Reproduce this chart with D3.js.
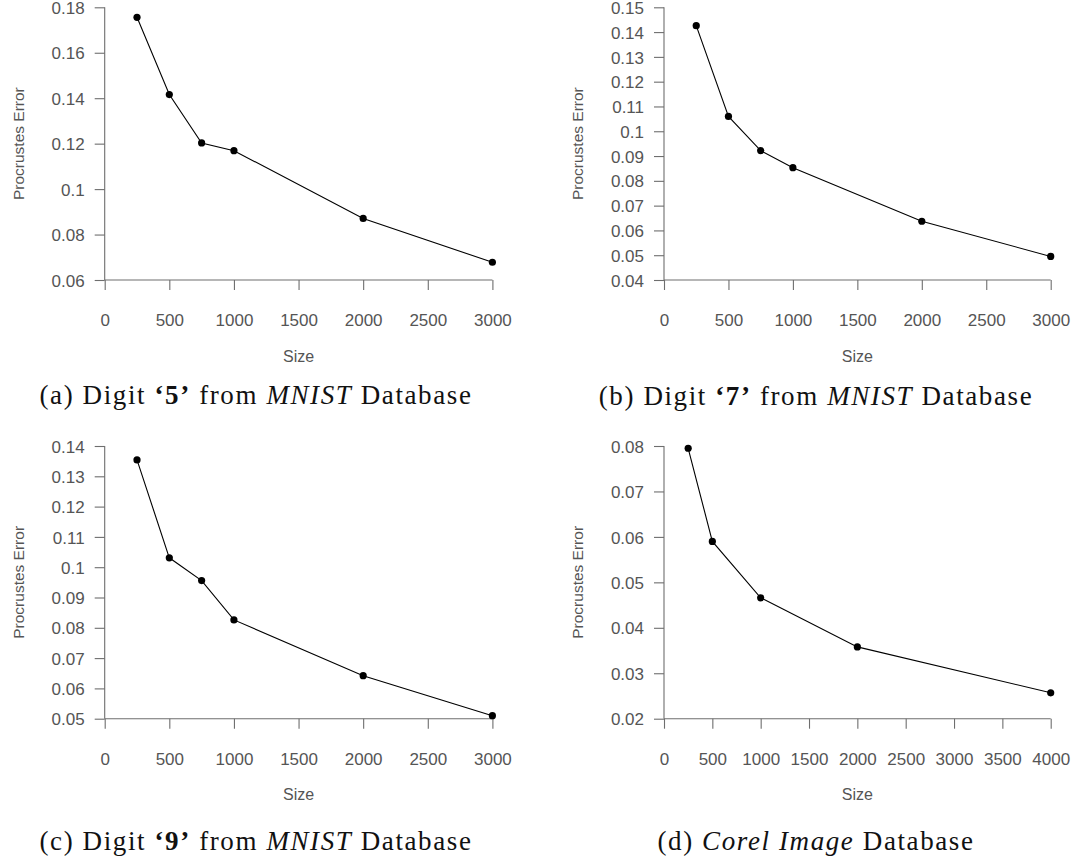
<!DOCTYPE html>
<html>
<head>
<meta charset="utf-8">
<script src="https://cdn.jsdelivr.net/npm/d3@7/dist/d3.min.js"></script>
<style>
  html, body { margin: 0; padding: 0; background: #fff; }
  svg { display: block; }
</style>
</head>
<body>
<svg id="fig" width="1081" height="861"></svg>
<script>
// Sample sizes and Procrustes errors for each dataset
const sizesMnist = [250, 500, 750, 1000, 2000, 3000];
const errDigit5 = [0.1756, 0.1416, 0.1203, 0.1169, 0.0871, 0.0678];
const errDigit7 = [0.1426, 0.1060, 0.0922, 0.0853, 0.0637, 0.0495];
const errDigit9 = [0.1354, 0.1031, 0.0956, 0.0826, 0.0642, 0.0510];
const sizesCorel = [250, 500, 1000, 2000, 4000];
const errCorel = [0.0795, 0.0590, 0.0466, 0.0358, 0.0257];

// Axis ticks
const xTicksMnist = [0, 500, 1000, 1500, 2000, 2500, 3000];
const xTicksCorel = [0, 500, 1000, 1500, 2000, 2500, 3000, 3500, 4000];
const yTicks5 = [0.06, 0.08, 0.10, 0.12, 0.14, 0.16, 0.18];
const yTicks7 = [0.04, 0.05, 0.06, 0.07, 0.08, 0.09, 0.10, 0.11, 0.12, 0.13, 0.14, 0.15];
const yTicks9 = [0.05, 0.06, 0.07, 0.08, 0.09, 0.10, 0.11, 0.12, 0.13, 0.14];
const yTicksCorel = [0.02, 0.03, 0.04, 0.05, 0.06, 0.07, 0.08];

// Caption pieces: [text, style]
const captionA = [["(a) Digit ", "n"], ["\u20185\u2019", "b"], [" from ", "n"], ["MNIST", "i"], [" Database", "n"]];
const captionB = [["(b) Digit ", "n"], ["\u20187\u2019", "b"], [" from ", "n"], ["MNIST", "i"], [" Database", "n"]];
const captionC = [["(c) Digit ", "n"], ["\u20189\u2019", "b"], [" from ", "n"], ["MNIST", "i"], [" Database", "n"]];
const captionD = [["(d) ", "n"], ["Corel Image", "i"], [" Database", "n"]];

const xLabel = "Size";
const yLabel = "Procrustes Error";

const panels = [
  { sizes: sizesMnist, errs: errDigit5, xTicks: xTicksMnist, yTicks: yTicks5,
    box: { left: 104.7, right: 492.4, top: 7.3, bottom: 280 }, caption: captionA, capX: 256, capY: 404 },
  { sizes: sizesMnist, errs: errDigit7, xTicks: xTicksMnist, yTicks: yTicks7,
    box: { left: 664, right: 1050.7, top: 7.3, bottom: 280 }, caption: captionB, capX: 816, capY: 405 },
  { sizes: sizesMnist, errs: errDigit9, xTicks: xTicksMnist, yTicks: yTicks9,
    box: { left: 104.7, right: 492.4, top: 446, bottom: 718.7 }, caption: captionC, capX: 256, capY: 850 },
  { sizes: sizesCorel, errs: errCorel, xTicks: xTicksCorel, yTicks: yTicksCorel,
    box: { left: 664, right: 1050.7, top: 446, bottom: 718.7 }, caption: captionD, capX: 816, capY: 850 }
];

const svg = d3.select("#fig");
const axisColor = "#6e6e6e";
const textColor = "#555";
const fmt = v => String(+v.toFixed(2));

panels.forEach(p => {
  const b = p.box;
  const x = d3.scaleLinear().domain(d3.extent(p.xTicks)).range([b.left, b.right]);
  const y = d3.scaleLinear().domain(d3.extent(p.yTicks)).range([b.bottom, b.top]);
  const g = svg.append("g");

  // x axis
  const xa = g.append("g").attr("transform", `translate(0,${b.bottom})`)
    .call(d3.axisBottom(x).tickValues(p.xTicks).tickSize(10).tickPadding(24).tickFormat(d3.format("d")));
  // y axis
  const ya = g.append("g").attr("transform", `translate(${b.left},0)`)
    .call(d3.axisLeft(y).tickValues(p.yTicks).tickSize(10).tickPadding(10).tickFormat(fmt));

  [xa, ya].forEach(a => {
    a.select(".domain").attr("stroke", axisColor).attr("stroke-width", 1.1);
    a.selectAll(".tick line").attr("stroke", axisColor).attr("stroke-width", 1.1);
    a.selectAll(".tick text").attr("fill", textColor)
      .attr("font-family", "'Liberation Sans', Arial, Helvetica, sans-serif")
      .attr("font-size", 17);
  });
  ya.selectAll(".tick text").attr("dy", "0.36em");
  // axis lines without end caps
  ya.select(".domain").attr("d", `M0,${b.bottom}V${b.top}`);
  xa.select(".domain").attr("d", `M${b.left},0H${b.right}`);

  // axis titles
  g.append("text")
    .attr("x", (b.left + b.right) / 2).attr("y", b.bottom + 76)
    .attr("dy", "0.35em").attr("text-anchor", "middle")
    .attr("fill", textColor).attr("font-family", "'Liberation Sans', Arial, sans-serif")
    .attr("font-size", 16).text(xLabel);
  g.append("text")
    .attr("transform", `translate(${b.left - 86},${(b.top + b.bottom) / 2}) rotate(-90)`)
    .attr("dy", "0.35em").attr("text-anchor", "middle")
    .attr("fill", textColor).attr("font-family", "'Liberation Sans', Arial, sans-serif")
    .attr("font-size", 15.5).text(yLabel);

  // series line and markers
  const pts = p.sizes.map((s, i) => [s, p.errs[i]]);
  g.append("path").datum(pts)
    .attr("fill", "none").attr("stroke", "#000").attr("stroke-width", 1.1)
    .attr("d", d3.line().x(d => x(d[0])).y(d => y(d[1])));
  g.selectAll("circle").data(pts).join("circle")
    .attr("cx", d => x(d[0])).attr("cy", d => y(d[1])).attr("r", 3.6).attr("fill", "#000");

  // caption
  const cap = g.append("text")
    .attr("x", p.capX).attr("y", p.capY).attr("text-anchor", "middle")
    .attr("font-family", "'Liberation Serif', 'Times New Roman', serif")
    .attr("font-size", 27).attr("fill", "#111").attr("letter-spacing", 1.6);
  p.caption.forEach(([t, s]) => {
    const ts = cap.append("tspan").text(t);
    if (s === "b") ts.attr("font-weight", "bold");
    if (s === "i") ts.attr("font-style", "italic");
  });
});
</script>
</body>
</html>
